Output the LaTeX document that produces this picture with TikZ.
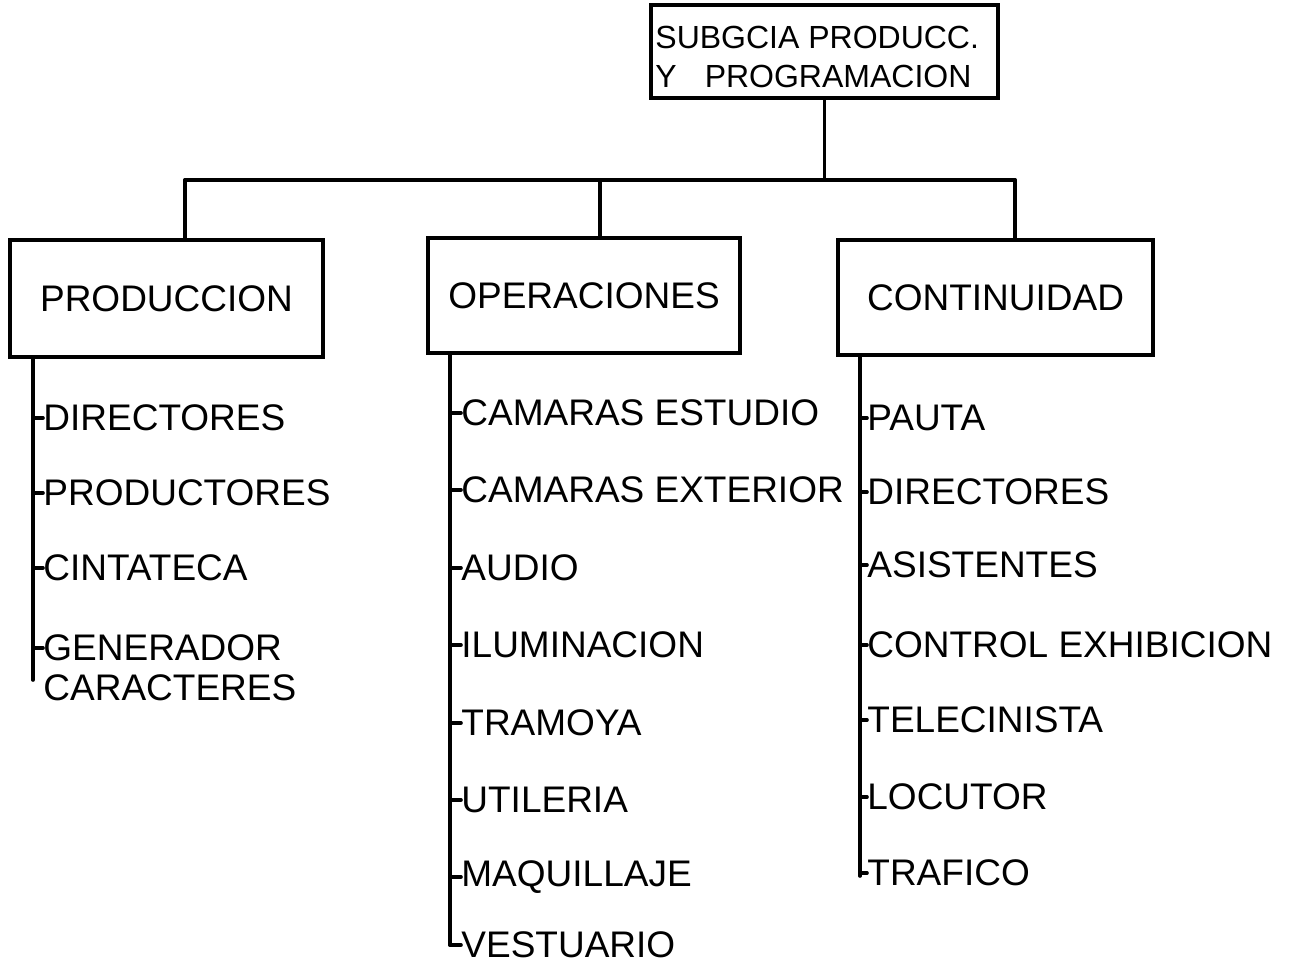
\documentclass[tikz,border=0pt]{standalone}
\usepackage{fontspec}
\setmainfont{Liberation Sans}
\begin{document}
\begin{tikzpicture}[x=0.5pt,y=-0.5pt,
  ln/.style={line width=1.8pt, line cap=round},
  box/.style={draw, line width=1.6pt, inner sep=0pt, font=\fontsize{18.5}{22}\selectfont},
  item/.style={anchor=west, inner sep=0pt, font=\fontsize{18.5}{22}\selectfont},
  topbox/.style={draw, line width=1.6pt, inner sep=0pt, minimum width=173.5pt, minimum height=46.5pt}]
\useasboundingbox (0,0) rectangle (1301,968);
% top box
\node[topbox] (top) at (824.5,51.5) {};
\node[anchor=west, inner sep=0pt, font=\fontsize{16}{20}\selectfont] (t1) at (655,37) {SUBGCIA PRODUCC.};
\node[anchor=west, inner sep=0pt, font=\fontsize{16}{20}\selectfont] (t2) at (655,76) {Y\hspace{14pt}PROGRAMACION};
% department boxes
\node[box, minimum width=156.5pt, minimum height=58.5pt] (prod) at (166.5,298.5) {PRODUCCION};
\node[box, minimum width=156pt, minimum height=57.5pt] (oper) at (584,295.5) {OPERACIONES};
\node[box, minimum width=157.5pt, minimum height=57.5pt] (cont) at (995.5,297.5) {CONTINUIDAD};
% bus
\coordinate (bus) at (825,180);
\coordinate (dL) at (185,180);
\coordinate (dM) at (600,180);
\coordinate (dR) at (1015,180);
\draw[ln] (top.south) -- (top.south |- bus);
\draw[ln] (dL) -- (dR);
\draw[ln] (dL) -- (dL |- prod.north);
\draw[ln] (dM) -- (dM |- oper.north);
\draw[ln] (dR) -- (dR |- cont.north);
% left column
\coordinate (sL) at (33,680);
\node[item] (p1) at (43,418) {DIRECTORES};
\node[item] (p2) at (43,493) {PRODUCTORES};
\node[item] (p3) at (43,568) {CINTATECA};
\node[item] (p4) at (43,648) {GENERADOR};
\node[item] (p5) at (43,688) {CARACTERES};
\draw[ln] (sL |- prod.south) -- (sL);
\foreach \n in {p1,p2,p3,p4}{\draw[ln] (sL |- \n.west) -- (\n.west);}
% middle column
\coordinate (sM) at (450,945);
\node[item] (o1) at (461,413) {CAMARAS ESTUDIO};
\node[item] (o2) at (461,490) {CAMARAS EXTERIOR};
\node[item] (o3) at (461,568) {AUDIO};
\node[item] (o4) at (461,645) {ILUMINACION};
\node[item] (o5) at (461,723) {TRAMOYA};
\node[item] (o6) at (461,800) {UTILERIA};
\node[item] (o7) at (461,877) {MAQUILLAJE};
\node[item] (o8) at (461,945) {VESTUARIO};
\draw[ln] (sM |- oper.south) -- (sM);
\foreach \n in {o1,o2,o3,o4,o5,o6,o7,o8}{\draw[ln] (sM |- \n.west) -- (\n.west);}
% right column
\coordinate (sR) at (860,876);
\node[item] (c1) at (867,418) {PAUTA};
\node[item] (c2) at (867,492) {DIRECTORES};
\node[item] (c3) at (867,565) {ASISTENTES};
\node[item] (c4) at (867,645) {CONTROL EXHIBICION};
\node[item] (c5) at (867,720) {TELECINISTA};
\node[item] (c6) at (867,797) {LOCUTOR};
\node[item] (c7) at (867,873) {TRAFICO};
\draw[ln] (sR |- cont.south) -- (sR);
\foreach \n in {c1,c2,c3,c4,c5,c6,c7}{\draw[ln] (sR |- \n.west) -- (\n.west);}
\end{tikzpicture}
\end{document}
